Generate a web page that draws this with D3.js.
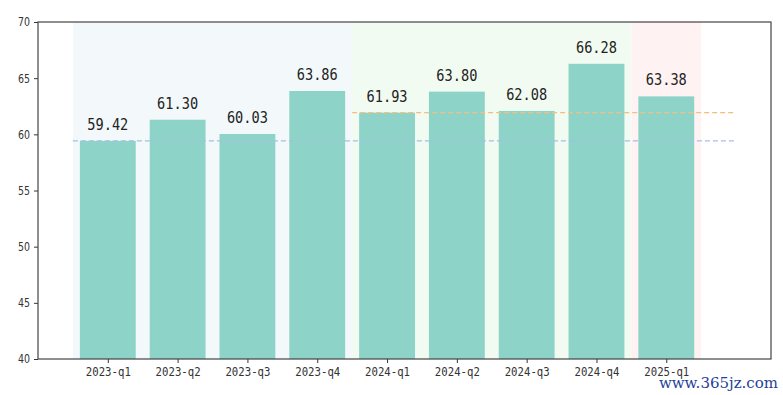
<!DOCTYPE html>
<html><head><meta charset="utf-8">
<script src="https://cdn.jsdelivr.net/npm/d3@7"></script>
<style>body{margin:0;background:#fff}svg{display:block}</style>
</head><body>
<script>
const categories = ["2023-q1","2023-q2","2023-q3","2023-q4","2024-q1","2024-q2","2024-q3","2024-q4","2025-q1"];
const values = [59.42, 61.30, 60.03, 63.86, 61.93, 63.80, 62.08, 66.28, 63.38];
const yTicks = [40,45,50,55,60,65,70];
const regions = [
  {start:-0.5, end:3.5, color:"#f3f9fb"},
  {start:3.5, end:7.5, color:"#f1fbf1"},
  {start:7.5, end:8.5, color:"#fff2f3"}
];
const refLines = [
  {value:59.42, start:-0.5, end:9.0, color:"#a3c0e3"},
  {value:61.93, start:3.5, end:9.0, color:"#f7bd7c"}
];

const W=783,H=395;
const L=38,R=771,T=22,B=359;
const svg=d3.select("body").append("svg").attr("width",W).attr("height",H);
const x=d3.scaleLinear().domain([-1,9.5]).range([L,R]);
const y=d3.scaleLinear().domain([40,70]).range([B,T]);
const bw=x(0.8)-x(0);

svg.selectAll("rect.reg").data(regions).enter().append("rect")
  .attr("x",d=>x(d.start)).attr("width",d=>x(d.end)-x(d.start))
  .attr("y",T).attr("height",B-T).attr("fill",d=>d.color);

svg.selectAll("rect.bar").data(values).enter().append("rect")
  .attr("x",(d,i)=>x(i)-bw/2).attr("width",bw)
  .attr("y",d=>y(d)).attr("height",d=>B-y(d)).attr("fill","#8dd3c7");

svg.selectAll("line.ref").data(refLines).enter().append("line")
  .attr("x1",d=>x(d.start)).attr("x2",d=>x(d.end))
  .attr("y1",d=>y(d.value)).attr("y2",d=>y(d.value))
  .attr("stroke",d=>d.color).attr("stroke-width",1.3).attr("stroke-dasharray","5,3");

svg.selectAll("text.val").data(values).enter().append("text")
  .attr("x",(d,i)=>x(i)).attr("y",d=>y(d)-11)
  .attr("text-anchor","middle").attr("font-family","'DejaVu Sans Mono', monospace")
  .attr("font-size",16).attr("fill","#222")
  .attr("textLength",41).attr("lengthAdjust","spacingAndGlyphs")
  .text(d=>d.toFixed(2));

const xAxis=d3.axisBottom(x).tickValues(d3.range(categories.length)).tickFormat(i=>categories[i]).tickSize(4).tickPadding(4);
const gx=svg.append("g").attr("transform",`translate(0,${B})`).call(xAxis);
gx.select(".domain").remove();
gx.selectAll("text").attr("font-family","'DejaVu Sans Mono', monospace").attr("font-size",12)
  .attr("textLength",45).attr("lengthAdjust","spacingAndGlyphs").attr("fill","#333");
gx.selectAll("line").attr("stroke","#333");

const yAxis=d3.axisLeft(y).tickValues(yTicks).tickSize(4).tickPadding(4);
const gy=svg.append("g").attr("transform",`translate(${L},0)`).call(yAxis);
gy.select(".domain").remove();
gy.selectAll("text").attr("font-family","'DejaVu Sans', sans-serif").attr("font-size",12).attr("fill","#333")
  .attr("textLength",12).attr("lengthAdjust","spacingAndGlyphs");
gy.selectAll("line").attr("stroke","#333");

svg.append("rect").attr("x",L).attr("y",T).attr("width",R-L).attr("height",B-T)
  .attr("fill","none").attr("stroke","#444").attr("stroke-width",1.2);

svg.append("text").attr("x",778).attr("y",388).attr("text-anchor","end")
  .attr("font-family","'DejaVu Serif', serif").attr("font-size",15).attr("fill","#1f3f99")
  .text("www.365jz.com");
</script>
</body></html>
